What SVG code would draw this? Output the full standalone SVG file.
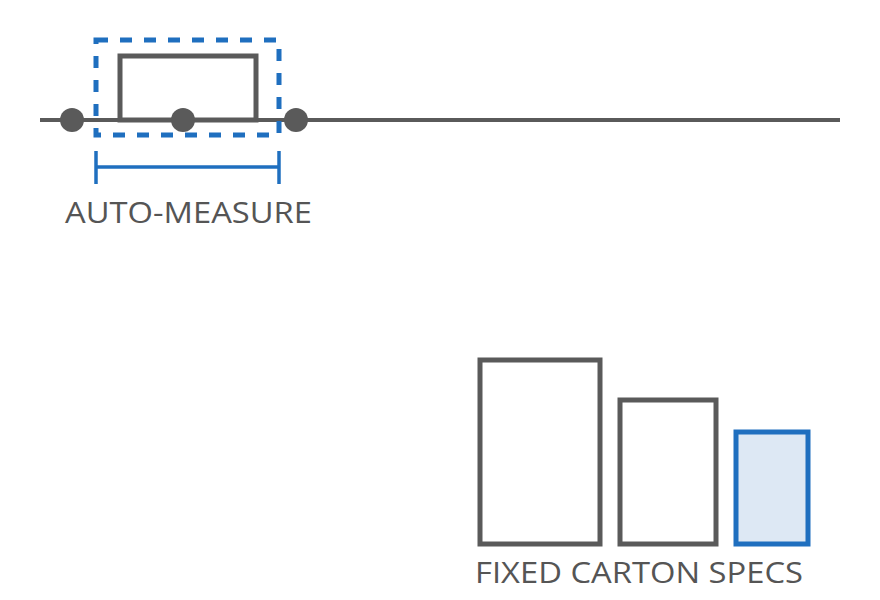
<svg xmlns="http://www.w3.org/2000/svg" width="880" height="600" viewBox="0 0 880 600">
<style>
.g{fill:none;stroke:#5a5a5a;stroke-width:5}
.b{fill:none;stroke:#1f6fbf;stroke-width:5}
.dot{fill:#5a5a5a}
.lbl{font-family:"Open Sans","Liberation Sans",sans-serif;font-size:29px;fill:#555555}
</style>
<rect width="880" height="600" fill="#ffffff"/>
<g id="connectors">
<line x1="40" y1="120" x2="840" y2="120" stroke="#5a5a5a" stroke-width="4"/>
</g>
<g id="item">
<rect class="g" x="120" y="56" width="136" height="64"/>
</g>
<g id="measure-box">
<rect class="b" x="96" y="40" width="183" height="95" stroke-dasharray="12 12"/>
</g>
<g id="dots">
<circle class="dot" cx="72" cy="120" r="12"/>
<circle class="dot" cx="183" cy="120" r="12"/>
<circle class="dot" cx="296" cy="120" r="12"/>
</g>
<g id="dimension">
<line x1="96" y1="151" x2="96" y2="184" stroke="#1f6fbf" stroke-width="3.5"/>
<line x1="279" y1="151" x2="279" y2="184" stroke="#1f6fbf" stroke-width="3.5"/>
<line x1="96" y1="167" x2="279" y2="167" stroke="#1f6fbf" stroke-width="3.5"/>
</g>
<g id="auto-measure-label">
<text class="lbl" x="65" y="223" textLength="247" lengthAdjust="spacingAndGlyphs">AUTO-MEASURE</text>
</g>
<g id="carton-large">
<rect class="g" x="480" y="360" width="120" height="184"/>
</g>
<g id="carton-medium">
<rect class="g" x="620" y="400" width="96" height="144"/>
</g>
<g id="carton-small">
<rect x="736" y="432" width="72" height="112" fill="#dde8f4" stroke="#1f6fbf" stroke-width="5"/>
</g>
<g id="fixed-label">
<text class="lbl" x="475" y="583" textLength="328" lengthAdjust="spacingAndGlyphs">FIXED CARTON SPECS</text>
</g>
</svg>
